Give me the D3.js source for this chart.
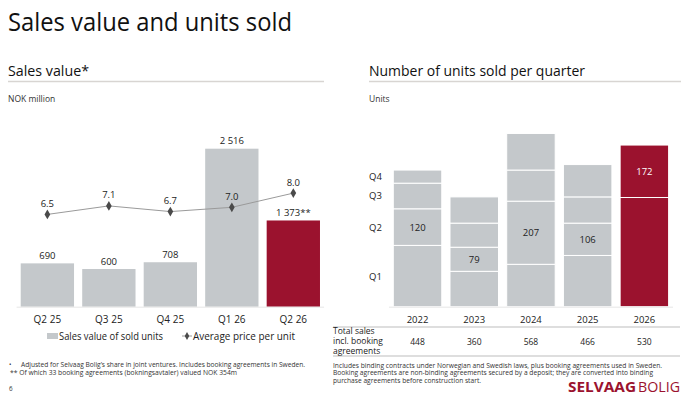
<!DOCTYPE html>
<html>
<head>
<meta charset="utf-8">
<script src="https://cdn.jsdelivr.net/npm/d3@7"></script>
<style>
  body { margin: 0; background: #fff; }
  svg { display: block; font-family: "Open Sans", "DejaVu Sans", sans-serif; }
</style>
</head>
<body>
<svg id="chart" width="690" height="408"></svg>
<script>
/*** DATA ***/
const quarters = ["Q2 25", "Q3 25", "Q4 25", "Q1 26", "Q2 26"];
const salesValue = [690, 600, 708, 2516, 1373];
const salesLabels = ["690", "600", "708", "2 516", "1 373**"];
const avgPrice = [6.5, 7.1, 6.7, 7.0, 8.0];
const priceLabels = ["6.5", "7.1", "6.7", "7.0", "8.0"];

const years = ["2022", "2023", "2024", "2025", "2026"];
const quarterNames = ["Q1", "Q2", "Q3", "Q4"];
const unitsQ1 = [201, 116, 139, 168, 358];
const unitsQ2 = [120, 79, 207, 106, 172];
const unitsQ3 = [84, 79, 102, 86, 0];
const unitsQ4 = [43, 86, 120, 106, 0];
const totalSales = [448, 360, 568, 466, 530];

/*** STYLE ***/
const grey = "#c4c8cb";
const red = "#9b122e";
const textCol = "#222";
const ruleCol = "#d8d5d2";

const svg = d3.select("#chart");

//headings
svg.append("text").attr("x", 8).attr("y", 31)
  .attr("font-size", 25).attr("fill", "#111")
  .attr("textLength", 284).attr("lengthAdjust", "spacingAndGlyphs")
  .text("Sales value and units sold");

function section(x, x2, title, w, unit) {
  svg.append("text").attr("x", x).attr("y", 76)
    .attr("font-size", 14.5).attr("fill", "#111")
    .attr("textLength", w).attr("lengthAdjust", "spacingAndGlyphs")
    .text(title);
  svg.append("line").attr("x1", x).attr("x2", x2).attr("y1", 81.5).attr("y2", 81.5)
    .attr("stroke", ruleCol).attr("stroke-width", 1.5);
  svg.append("text").attr("x", x).attr("y", 102)
    .attr("font-size", 8.5).attr("fill", "#333").text(unit);
}
section(8, 324, "Sales value*", 81, "NOK million");
section(369, 681, "Number of units sold per quarter", 216, "Units");

/*** LEFT CHART ***/
const base = 306.7;
const x1 = d3.scaleBand().domain(quarters).range([16.6, 324.1]).paddingInner(0.133).paddingOuter(0.067);
const yBar = d3.scaleLinear().domain([0, 3000]).range([base, 118.3]);
const yPrice = d3.scaleLinear().domain([0, 13.27]).range([base, 118.3]);

const left = svg.append("g");

left.selectAll("rect.bar")
  .data(salesValue)
  .enter()
  .append("rect")
    .attr("x", (d, i) => x1(quarters[i]))
    .attr("y", d => yBar(d))
    .attr("width", x1.bandwidth())
    .attr("height", d => base - yBar(d))
    .attr("fill", (d, i) => i == quarters.length - 1 ? red : grey);

left.append("line").attr("x1", 16.6).attr("x2", 324.1).attr("y1", base + 0.5).attr("y2", base + 0.5)
  .attr("stroke", "#e6e6e6");

left.selectAll("text.val")
  .data(salesValue)
  .enter()
  .append("text")
    .attr("x", (d, i) => x1(quarters[i]) + x1.bandwidth() / 2)
    .attr("y", d => yBar(d) - 4.5)
    .attr("text-anchor", "middle").attr("font-size", 9.5).attr("fill", textCol)
    .text((d, i) => salesLabels[i]);

left.selectAll("text.xlab")
  .data(quarters)
  .enter()
  .append("text")
    .attr("x", d => x1(d) + x1.bandwidth() / 2)
    .attr("y", 323)
    .attr("text-anchor", "middle").attr("font-size", 10).attr("fill", textCol)
    .text(d => d);

//average price line
const line = d3.line()
  .x((d, i) => x1(quarters[i]) + x1.bandwidth() / 2)
  .y(d => yPrice(d));

left.append("path").datum(avgPrice)
  .attr("d", line).attr("fill", "none")
  .attr("stroke", "#9a9a9a").attr("stroke-width", 1);

const diamond = d3.symbol().type(d3.symbolDiamond).size(28);
left.selectAll("path.mark")
  .data(avgPrice)
  .enter()
  .append("path")
    .attr("d", diamond)
    .attr("transform", (d, i) => `translate(${x1(quarters[i]) + x1.bandwidth() / 2},${yPrice(d)})`)
    .attr("fill", "#4a4a4a");

left.selectAll("text.price")
  .data(avgPrice)
  .enter()
  .append("text")
    .attr("x", (d, i) => x1(quarters[i]) + x1.bandwidth() / 2)
    .attr("y", d => yPrice(d) - 7.5)
    .attr("text-anchor", "middle").attr("font-size", 9.5).attr("fill", textCol)
    .text((d, i) => priceLabels[i]);

//legend
const lg = left.append("g");
lg.append("rect").attr("x", 47).attr("y", 333).attr("width", 11).attr("height", 6).attr("fill", grey);
lg.append("text").attr("x", 59).attr("y", 339.5).attr("font-size", 10).attr("fill", textCol)
  .attr("textLength", 104).attr("lengthAdjust", "spacingAndGlyphs")
  .text("Sales value of sold units");
lg.append("line").attr("x1", 182).attr("x2", 192).attr("y1", 336).attr("y2", 336)
  .attr("stroke", "#9a9a9a");
lg.append("path").attr("d", d3.symbol().type(d3.symbolDiamond).size(18))
  .attr("transform", "translate(187,336)").attr("fill", "#4a4a4a");
lg.append("text").attr("x", 193).attr("y", 339.5).attr("font-size", 10).attr("fill", textCol)
  .attr("textLength", 102).attr("lengthAdjust", "spacingAndGlyphs")
  .text("Average price per unit");

/*** RIGHT CHART ***/
const x2 = d3.scaleBand().domain(years).range([389.2, 672.7]).paddingInner(0.145).paddingOuter(0.072);
const yUnits = d3.scaleLinear().domain([0, 600]).range([base, base - 183]);

const stackRows = years.map((y, i) => ({
  year: y, Q1: unitsQ1[i], Q2: unitsQ2[i], Q3: unitsQ3[i], Q4: unitsQ4[i]
}));
const series = d3.stack().keys(quarterNames)(stackRows);

const right = svg.append("g");

right.selectAll("g.layer")
  .data(series)
  .enter()
  .append("g")
  .selectAll("rect")
    .data(d => d.filter(s => s[1] > s[0]))
    .enter()
    .append("rect")
      .attr("x", d => x2(d.data.year))
      .attr("y", d => yUnits(d[1]))
      .attr("width", x2.bandwidth())
      .attr("height", d => yUnits(d[0]) - yUnits(d[1]))
      .attr("fill", d => d.data.year == "2026" ? red : grey)
      .attr("stroke", "#fff").attr("stroke-width", 1);

right.append("line").attr("x1", 389).attr("x2", 673).attr("y1", base + 0.5).attr("y2", base + 0.5)
  .attr("stroke", "#e6e6e6");

//Q2 labels
const q2 = series[1];
right.selectAll("text.q2")
  .data(q2)
  .enter()
  .append("text")
    .attr("x", d => x2(d.data.year) + x2.bandwidth() / 2)
    .attr("y", d => (yUnits(d[0]) + yUnits(d[1])) / 2 + 3.5)
    .attr("text-anchor", "middle").attr("font-size", 9.5)
    .attr("fill", d => d.data.year == "2026" ? "#fff" : textCol)
    .text(d => d[1] - d[0]);

//quarter names beside the first bar
right.selectAll("text.qn")
  .data(series)
  .enter()
  .append("text")
    .attr("x", 369)
    .attr("y", d => (yUnits(d[0][0]) + yUnits(d[0][1])) / 2 + 3.5)
    .attr("font-size", 9.5).attr("fill", textCol)
    .text(d => d.key);

right.selectAll("text.year")
  .data(years)
  .enter()
  .append("text")
    .attr("x", d => x2(d) + x2.bandwidth() / 2)
    .attr("y", 322.5)
    .attr("text-anchor", "middle").attr("font-size", 9.5).attr("fill", textCol)
    .text(d => d);

//totals table
right.append("line").attr("x1", 333).attr("x2", 680).attr("y1", 327).attr("y2", 327)
  .attr("stroke", "#bdbdbd").attr("stroke-width", 1);
right.append("line").attr("x1", 333).attr("x2", 680).attr("y1", 356).attr("y2", 356)
  .attr("stroke", "#bdbdbd").attr("stroke-width", 1);
["Total sales", "incl. booking", "agreements"].forEach((t, i) => {
  right.append("text").attr("x", 333).attr("y", 334 + i * 10)
    .attr("font-size", 8.5).attr("fill", textCol).text(t);
});
right.selectAll("text.tot")
  .data(totalSales)
  .enter()
  .append("text")
    .attr("x", (d, i) => x2(years[i]) + x2.bandwidth() / 2)
    .attr("y", 344.5)
    .attr("text-anchor", "middle").attr("font-size", 8.5).attr("fill", textCol)
    .text(d => d);

/*** FOOTNOTES ***/
function note(x, y, w, t) {
  svg.append("text").attr("x", x).attr("y", y)
    .attr("font-size", 6.3).attr("fill", "#333")
    .attr("textLength", w).attr("lengthAdjust", "spacingAndGlyphs")
    .text(t);
}
svg.append("text").attr("x", 9).attr("y", 367).attr("font-size", 6.3).attr("fill", "#333").text("•");
note(21, 367, 284, "Adjusted for Selvaag Bolig’s share in joint ventures. Includes booking agreements in Sweden.");
note(10, 374.5, 227, "** Of which 33 booking agreements (bokningsavtaler) valued NOK 354m");
svg.append("text").attr("x", 9).attr("y", 391).attr("font-size", 6.3).attr("fill", "#333").text("6");

note(333, 367.5, 329, "Includes binding contracts under Norwegian and Swedish laws, plus booking agreements used in Sweden.");
note(333, 375, 320, "Booking agreements are non-binding agreements secured by a deposit; they are converted into binding");
note(333, 382.5, 148, "purchase agreements before construction start.");

//logo
svg.append("text").attr("x", 568).attr("y", 392).attr("font-size", 14.5)
  .attr("font-weight", "bold").attr("fill", red)
  .attr("textLength", 68).attr("lengthAdjust", "spacingAndGlyphs")
  .text("SELVAAG");
svg.append("text").attr("x", 638).attr("y", 392).attr("font-size", 14.5)
  .attr("fill", red)
  .attr("textLength", 42).attr("lengthAdjust", "spacingAndGlyphs")
  .text("BOLIG");
</script>
</body>
</html>
